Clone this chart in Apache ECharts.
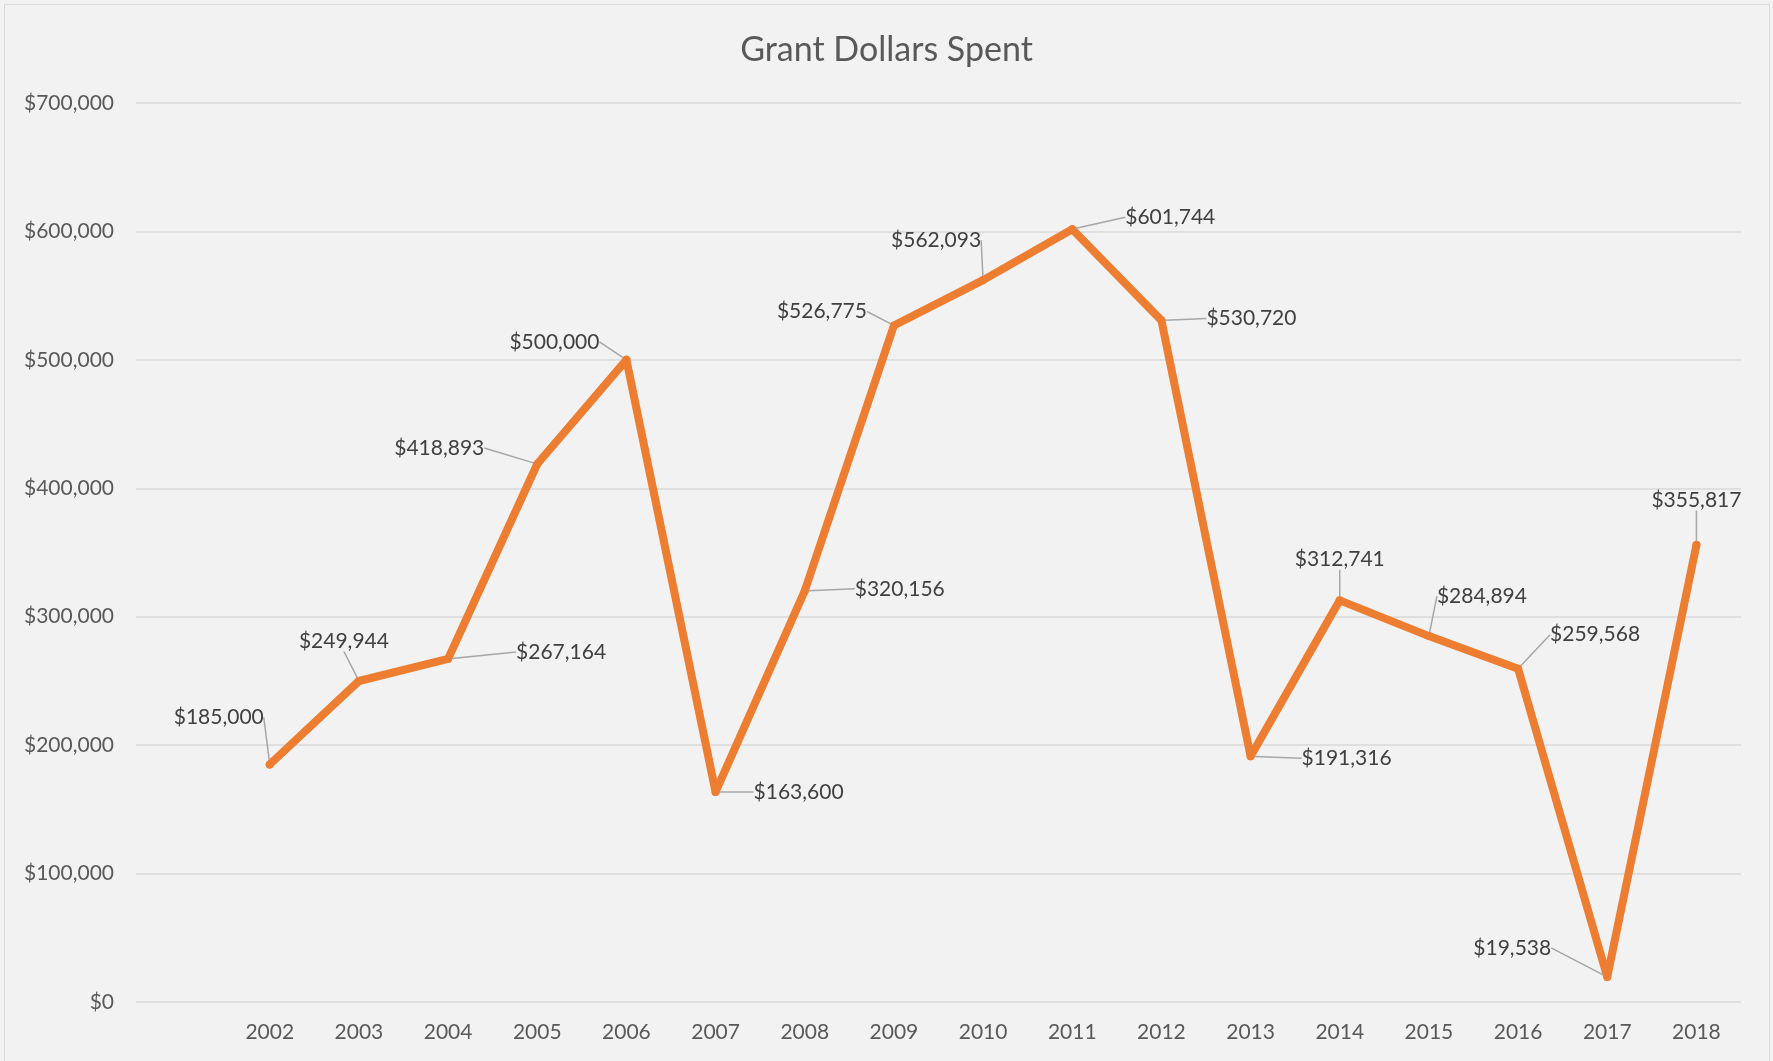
<!DOCTYPE html>
<html>
<head>
<meta charset="utf-8">
<script src="https://cdn.jsdelivr.net/npm/echarts@6/dist/echarts.min.js"></script>
<style>
  html, body { margin: 0; padding: 0; background: #f2f2f2; }
  #chart { width: 1773px; height: 1061px; }
</style>
</head>
<body>
<div id="chart"></div>
<script>
const years = ['2002', '2003', '2004', '2005', '2006', '2007', '2008', '2009', '2010',
  '2011', '2012', '2013', '2014', '2015', '2016', '2017', '2018'];
const spent = [185000, 249944, 267164, 418893, 500000, 163600, 320156, 526775, 562093,
  601744, 530720, 191316, 312741, 284894, 259568, 19538, 355817];
const yTicks = [0, 100000, 200000, 300000, 400000, 500000, 600000, 700000];

// the excel chart keeps an empty slot before 2002
const categories = [''].concat(years);
const seriesData = [null].concat(spent);

// where each data label was dragged to, relative to its point (px)
const labelShift = [
  [0, 0],
  [-51, -47], [-15, -40], [113, -7], [-98, -16], [-72, -18], [83, 0],
  [95, -2], [-72, -14], [-47, -40], [98, -12], [90, -2], [96, 2],
  [0, -41], [53, -40], [77, -34], [-95, -29], [0, -45]
];

const money = v => '$' + Number(v).toLocaleString('en-US');
const font = 'Lato, "Open Sans", sans-serif';

const chart = echarts.init(document.getElementById('chart'));
chart.setOption({
  backgroundColor: '#f2f2f2',
  title: {
    text: 'Grant Dollars Spent',
    left: 'center',
    top: 28,
    textStyle: { color: '#595959', fontSize: 34, fontWeight: 'normal', fontFamily: font }
  },
  graphic: [{
    type: 'rect',
    shape: { x: 4.5, y: 4.5, width: 1765, height: 1070 },
    style: { fill: 'none', stroke: '#d9d9d9', lineWidth: 1 },
    silent: true
  }],
  grid: { left: 136, right: 32, top: 103, bottom: 59 },
  xAxis: {
    type: 'category',
    data: categories,
    boundaryGap: true,
    axisLine: { show: false },
    axisTick: { show: false },
    axisLabel: { color: '#595959', fontSize: 21, fontFamily: font, margin: 20 }
  },
  yAxis: {
    type: 'value',
    min: yTicks[0],
    max: yTicks[yTicks.length - 1],
    interval: yTicks[1] - yTicks[0],
    axisLine: { show: false },
    axisTick: { show: false },
    axisLabel: { color: '#595959', fontSize: 21, fontFamily: font, margin: 22, formatter: money },
    splitLine: { lineStyle: { color: '#d9d9d9', width: 1.5 } }
  },
  series: [{
    type: 'line',
    data: seriesData,
    symbol: 'circle',
    symbolSize: 8,
    showSymbol: true,
    itemStyle: { color: '#ED7D31' },
    lineStyle: { color: '#ED7D31', width: 8, cap: 'round', join: 'round' },
    label: {
      show: true,
      position: 'inside',
      color: '#404040',
      fontSize: 21,
      fontFamily: font,
      formatter: p => money(p.value)
    },
    labelLine: { show: true, lineStyle: { color: '#a6a6a6', width: 1.5 } },
    labelLayout: p => ({ dx: labelShift[p.dataIndex][0], dy: labelShift[p.dataIndex][1] }),
    animation: false
  }]
});
</script>
</body>
</html>
